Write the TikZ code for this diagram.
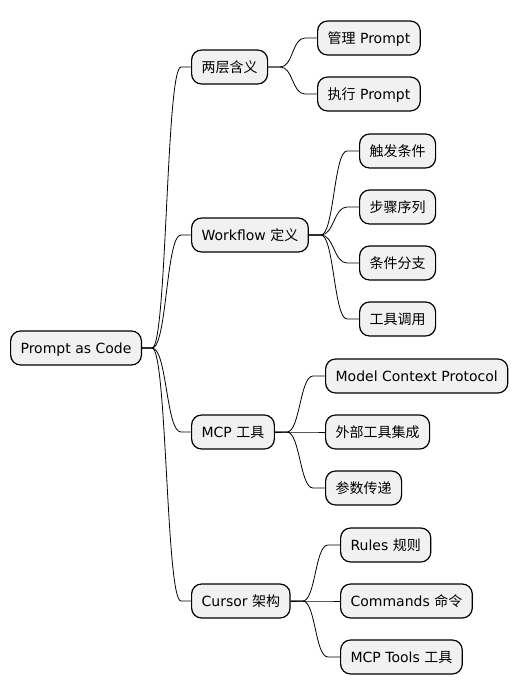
\documentclass[tikz,border=0pt]{standalone}
\usepackage{fontspec}
\setmainfont{DejaVu Sans}
\newfontfamily\cjk{Noto Sans CJK SC}
\usepackage{tikz}
\usetikzlibrary{calc}
\definecolor{topicfill}{RGB}{241,241,241}

\begin{document}
\begin{tikzpicture}[
  x=1pt, y=-1pt,
  topic/.style={rectangle, rounded corners=10pt, draw=black, line width=1.2pt, fill=topicfill, anchor=west,
    minimum height=34pt, inner xsep=10pt, text height=12pt, text depth=2pt, font=\fontsize{14pt}{16pt}\selectfont},
  link/.style={draw=black, line width=0.8pt}
]
  \useasboundingbox (0,0) rectangle (518,696);

  \node[topic] (root) at (10,348) {Prompt as Code};

  \node[topic] (layers) at (191,67) {{\cjk 两层含义}};
  \node[topic] (manage) at (317,38) {{\cjk 管理} Prompt};
  \node[topic] (exec) at (317,94) {{\cjk 执行} Prompt};

  \node[topic] (workflow) at (191,235) {Workflow {\cjk 定义}};
  \node[topic] (trigger) at (359,151) {{\cjk 触发条件}};
  \node[topic] (steps) at (359,207) {{\cjk 步骤序列}};
  \node[topic] (branch) at (359,263) {{\cjk 条件分支}};
  \node[topic] (toolcall) at (359,319) {{\cjk 工具调用}};

  \node[topic] (mcp) at (191,432) {MCP {\cjk 工具}};
  \node[topic] (protocol) at (325,376) {Model Context Protocol};
  \node[topic] (external) at (325,432) {{\cjk 外部工具集成}};
  \node[topic] (params) at (325,488) {{\cjk 参数传递}};

  \node[topic] (cursor) at (191,601) {Cursor {\cjk 架构}};
  \node[topic] (rules) at (340,545) {Rules {\cjk 规则}};
  \node[topic] (commands) at (340,601) {Commands {\cjk 命令}};
  \node[topic] (tools) at (340,657) {MCP Tools {\cjk 工具}};

  % root branches
  \draw[link] (root.east) -- ++(10,0) .. controls +(15,0) and +(-15,0) .. ($(layers.west)+(-10,0)$) -- (layers.west);
  \draw[link] (root.east) -- ++(10,0) .. controls +(15,0) and +(-15,0) .. ($(workflow.west)+(-10,0)$) -- (workflow.west);
  \draw[link] (root.east) -- ++(10,0) .. controls +(15,0) and +(-15,0) .. ($(mcp.west)+(-10,0)$) -- (mcp.west);
  \draw[link] (root.east) -- ++(10,0) .. controls +(15,0) and +(-15,0) .. ($(cursor.west)+(-10,0)$) -- (cursor.west);

  % leaves
  \draw[link] (layers.east) -- ++(12,0) .. controls +(13,0) and +(-13,0) .. ($(manage.west)+(-12,0)$) -- (manage.west);
  \draw[link] (layers.east) -- ++(12,0) .. controls +(13,0) and +(-13,0) .. ($(exec.west)+(-12,0)$) -- (exec.west);
  \draw[link] (workflow.east) -- ++(12,0) .. controls +(13,0) and +(-13,0) .. ($(trigger.west)+(-12,0)$) -- (trigger.west);
  \draw[link] (workflow.east) -- ++(12,0) .. controls +(13,0) and +(-13,0) .. ($(steps.west)+(-12,0)$) -- (steps.west);
  \draw[link] (workflow.east) -- ++(12,0) .. controls +(13,0) and +(-13,0) .. ($(branch.west)+(-12,0)$) -- (branch.west);
  \draw[link] (workflow.east) -- ++(12,0) .. controls +(13,0) and +(-13,0) .. ($(toolcall.west)+(-12,0)$) -- (toolcall.west);
  \draw[link] (mcp.east) -- ++(12,0) .. controls +(13,0) and +(-13,0) .. ($(protocol.west)+(-12,0)$) -- (protocol.west);
  \draw[link] (mcp.east) -- ++(12,0) .. controls +(13,0) and +(-13,0) .. ($(external.west)+(-12,0)$) -- (external.west);
  \draw[link] (mcp.east) -- ++(12,0) .. controls +(13,0) and +(-13,0) .. ($(params.west)+(-12,0)$) -- (params.west);
  \draw[link] (cursor.east) -- ++(12,0) .. controls +(13,0) and +(-13,0) .. ($(rules.west)+(-12,0)$) -- (rules.west);
  \draw[link] (cursor.east) -- ++(12,0) .. controls +(13,0) and +(-13,0) .. ($(commands.west)+(-12,0)$) -- (commands.west);
  \draw[link] (cursor.east) -- ++(12,0) .. controls +(13,0) and +(-13,0) .. ($(tools.west)+(-12,0)$) -- (tools.west);
\end{tikzpicture}
\end{document}
